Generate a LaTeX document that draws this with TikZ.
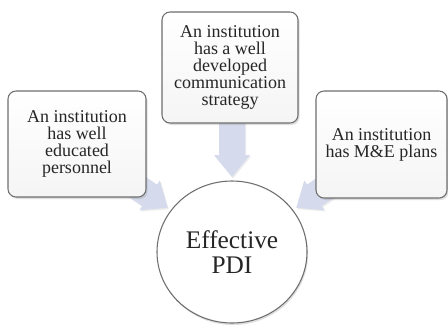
\documentclass[tikz,border=0pt]{standalone}
\usepackage{fontspec}
\setmainfont{Liberation Serif}
\usetikzlibrary{shapes.geometric,shadows}
\pgfdeclarelayer{background}
\pgfsetlayers{background,main}
\definecolor{boxline}{HTML}{6E6E6E}
\definecolor{arrowfill}{HTML}{D5DBEC}
\definecolor{txt}{HTML}{262626}
\begin{document}
\begin{tikzpicture}[x=0.75pt,y=-0.75pt,
  box/.style={draw=boxline, line width=0.8pt, rounded corners=6pt,
    top color=white, bottom color=gray!8,
    drop shadow={shadow xshift=1.2pt, shadow yshift=-1.5pt, opacity=0.25},
    text=txt, align=center, inner sep=0pt,
    font=\fontsize{13.5}{12.75}\selectfont},
  hub/.style={ellipse, draw=boxline, line width=0.8pt, fill=white,
    drop shadow={shadow xshift=0.8pt, shadow yshift=-1.5pt, opacity=0.25},
    minimum width=112.5pt, minimum height=106.5pt, inner sep=0pt,
    align=center, text=txt, font=\fontsize{19}{18.75}\selectfont},
  blockarrow/.style={fill=arrowfill, draw=none,
    drop shadow={shadow xshift=0.8pt, shadow yshift=-1pt, opacity=0.15}}]
\path[use as bounding box] (0,0) rectangle (448,325);

\node[box, minimum width=103.5pt, minimum height=79.5pt] (edu) at (77,144)
  {An institution\\has well\\educated\\personnel};
\node[box, minimum width=102pt, minimum height=83.25pt] (comm) at (230,67.5)
  {An institution\\has a well\\developed\\communication\\strategy};
\node[box, minimum width=98.25pt, minimum height=80.25pt] (me) at (381.5,144.5)
  {An institution\\has M\&E plans};
\node[hub] (pdi) at (232,252) {Effective\\PDI};

\begin{pgfonlayer}{background}
\fill[white] (0,0) rectangle (448,325);
\foreach \ang/\d/\len in {90/75/58, 145.5/78/62, 34.5/78/62}
  \path[blockarrow, shift={(pdi.center)}, rotate=\ang]
    (\d,0) -- (\d+22,18) -- (\d+22,13) -- (\d+\len,13)
    -- (\d+\len,-13) -- (\d+22,-13) -- (\d+22,-18) -- cycle;
\end{pgfonlayer}
\end{tikzpicture}
\end{document}
